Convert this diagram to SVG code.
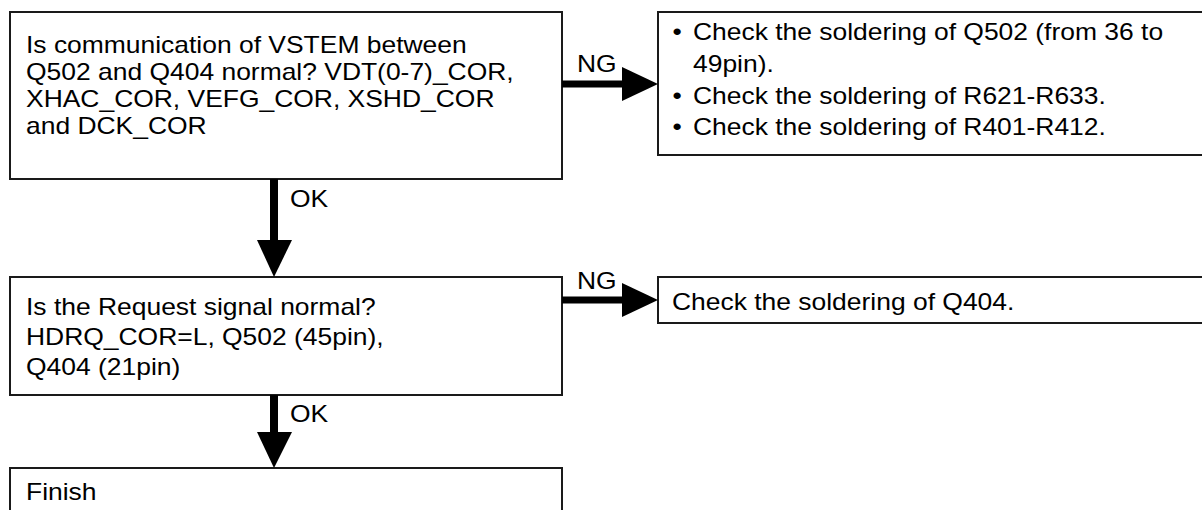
<svg xmlns="http://www.w3.org/2000/svg" width="1202" height="510" viewBox="0 0 1202 510">
<style>
.box{fill:#fff;stroke:#1a1a1a;stroke-width:2}
text{font-family:"Liberation Sans",Arial,sans-serif;font-size:23px;fill:#000}
.ln{stroke:#000;fill:none}
.hd{fill:#000}
</style>
<rect width="1202" height="510" fill="#fff"/>
<g id="node-q1">
<rect class="box" x="10" y="12" width="552" height="167"/>
<text transform="translate(26,53) scale(1.15,1)">Is communication of VSTEM between</text>
<text transform="translate(26,80) scale(1.15,1)">Q502 and Q404 normal? VDT(0-7)_COR,</text>
<text transform="translate(26,107) scale(1.15,1)">XHAC_COR, VEFG_COR, XSHD_COR</text>
<text transform="translate(26,134) scale(1.15,1)">and DCK_COR</text>
</g>
<g id="node-ng1">
<rect class="box" x="658" y="12" width="560" height="143"/>
<text transform="translate(677,40) scale(1.15,1)" text-anchor="middle">•</text>
<text transform="translate(693,40) scale(1.15,1)">Check the soldering of Q502 (from 36 to</text>
<text transform="translate(693,72) scale(1.15,1)">49pin).</text>
<text transform="translate(677,104) scale(1.15,1)" text-anchor="middle">•</text>
<text transform="translate(693,104) scale(1.15,1)">Check the soldering of R621-R633.</text>
<text transform="translate(677,135) scale(1.15,1)" text-anchor="middle">•</text>
<text transform="translate(693,135) scale(1.15,1)">Check the soldering of R401-R412.</text>
</g>
<g id="node-q2">
<rect class="box" x="10" y="277" width="552" height="118"/>
<text transform="translate(26,315) scale(1.15,1)">Is the Request signal normal?</text>
<text transform="translate(26,345) scale(1.15,1)">HDRQ_COR=L, Q502 (45pin),</text>
<text transform="translate(26,375) scale(1.15,1)">Q404 (21pin)</text>
</g>
<g id="node-ng2">
<rect class="box" x="658" y="277" width="560" height="46"/>
<text transform="translate(672,310) scale(1.15,1)">Check the soldering of Q404.</text>
</g>
<g id="node-finish">
<rect class="box" x="10" y="468" width="552" height="60"/>
<text transform="translate(26,500) scale(1.15,1)">Finish</text>
</g>
<g id="connectors">
<line class="ln" x1="562" y1="84" x2="623" y2="84" stroke-width="7"/>
<polygon class="hd" points="622,67 658,84 622,101"/>
<text transform="translate(577,72) scale(1.15,1)">NG</text>
<line class="ln" x1="562" y1="300" x2="623" y2="300" stroke-width="7"/>
<polygon class="hd" points="622,283 658,300 622,317"/>
<text transform="translate(577,289) scale(1.15,1)">NG</text>
<line class="ln" x1="274" y1="179" x2="274" y2="241" stroke-width="8"/>
<polygon class="hd" points="257,240 274,277 292,240"/>
<text transform="translate(290,207) scale(1.15,1)">OK</text>
<line class="ln" x1="274" y1="395" x2="274" y2="433" stroke-width="8"/>
<polygon class="hd" points="257,432 274,468 292,432"/>
<text transform="translate(290,422) scale(1.15,1)">OK</text>
</g>
</svg>
